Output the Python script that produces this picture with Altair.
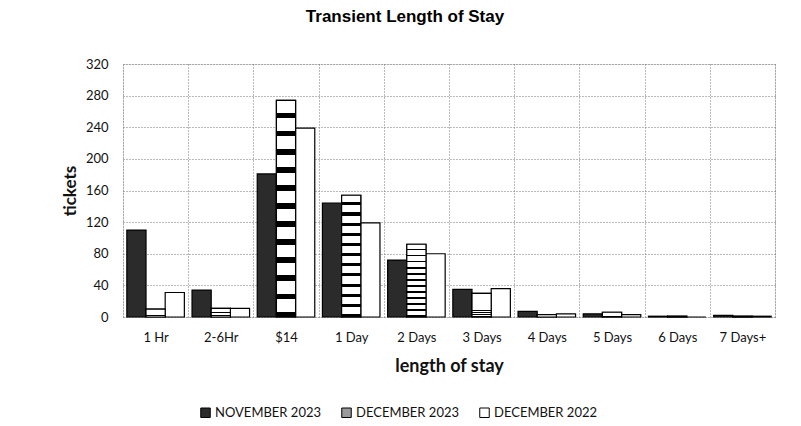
import altair as alt
import pandas as pd

categories = ["1 Hr", "2-6Hr", "$14", "1 Day", "2 Days", "3 Days", "4 Days", "5 Days", "6 Days", "7 Days+"]
series = ["NOVEMBER 2023", "DECEMBER 2023", "DECEMBER 2022"]
nov_2023 = [110, 34, 181, 144, 72, 35, 7, 4, 1, 2]
dec_2023 = [10, 11, 274, 154, 92, 30, 3, 6, 1, 1]
dec_2022 = [31, 11, 239, 119, 80, 36, 4, 3, 0, 1]
y_ticks = [0, 40, 80, 120, 160, 200, 240, 280, 320]

rows = []
for name, vals in zip(series, [nov_2023, dec_2023, dec_2022]):
    for c, v in zip(categories, vals):
        rows.append({"stay": c, "series": name, "tickets": v})
df = pd.DataFrame(rows)

FONT = "Lato"

# hatch-like fill for the DECEMBER 2023 bars
n_stripes = 12
stops = []
for k in range(n_stripes):
    a = k / n_stripes
    b = (k + 0.7) / n_stripes
    c = (k + 1) / n_stripes
    stops += [
        {"offset": a, "color": "white"},
        {"offset": b, "color": "white"},
        {"offset": b, "color": "black"},
        {"offset": c, "color": "black"},
    ]
hatch = alt.LinearGradient(gradient="linear", stops=stops, x1=0, y1=0, x2=0, y2=1)

x_enc = alt.X(
    "stay:N",
    sort=categories,
    scale=alt.Scale(paddingInner=0, paddingOuter=0),
    axis=alt.Axis(
        title="length of stay",
        labelAngle=0,
        tickBand="extent",
        grid=True,
        gridDash=[1, 2],
        gridColor="#777",
        ticks=False,
        domain=False,
        labelPadding=14,
        labelFontSize=13,
        labelFont=FONT,
        labelColor="#111",
        titleFont=FONT,
        titleFontSize=18,
        titleFontWeight="bold",
        titleColor="#111",
        titlePadding=13,
    ),
)
xoff_enc = alt.XOffset(
    "series:N",
    sort=series,
    scale=alt.Scale(domain=series, paddingInner=0, paddingOuter=0.2),
)
y_enc = alt.Y(
    "tickets:Q",
    scale=alt.Scale(domain=[0, 320], nice=False),
    axis=alt.Axis(
        title="tickets",
        values=y_ticks,
        labelOverlap=False,
        grid=True,
        gridDash=[1, 2],
        gridColor="#777",
        ticks=False,
        domain=False,
        labelPadding=15,
        labelFontSize=13,
        labelFont=FONT,
        labelColor="#111",
        titleFont=FONT,
        titleFontSize=17,
        titleFontWeight="bold",
        titleColor="#111",
        titlePadding=6,
    ),
)

base = alt.Chart(df).mark_bar(stroke="black", strokeWidth=1.2).encode(
    x=x_enc,
    xOffset=xoff_enc,
    y=y_enc,
    color=alt.Color(
        "series:N",
        sort=series,
        scale=alt.Scale(domain=series, range=["#2b2b2b", "#9a9a9a", "#ffffff"]),
        legend=alt.Legend(
            title=None,
            orient="none",
            direction="horizontal",
            legendX=76,
            legendY=342,
            symbolType="square",
            symbolSize=90,
            symbolStrokeColor="black",
            symbolStrokeWidth=1,
            labelFont=FONT,
            labelFontSize=13,
            labelColor="#111",
            labelOffset=3,
            columnPadding=18,
        ),
    ),
)

hatched = alt.Chart(df).transform_filter(
    alt.datum.series == "DECEMBER 2023"
).mark_bar(stroke="black", strokeWidth=1.2, fill=hatch).encode(
    x=x_enc,
    xOffset=xoff_enc,
    y=y_enc,
)

chart = alt.layer(base, hatched).properties(
    width=652,
    height=253,
    title=alt.TitleParams(
        "Transient Length of Stay",
        font="Liberation Sans",
        fontSize=17,
        fontWeight="bold",
        color="black",
        anchor="middle",
        frame="group",
        dx=-44,
        offset=32,
    ),
    padding={"left": 53, "top": 0, "right": 10, "bottom": 2},
).configure_view(stroke=None).configure(background="white")

chart.save("out.html", embed_options={"renderer": "svg", "actions": False})
